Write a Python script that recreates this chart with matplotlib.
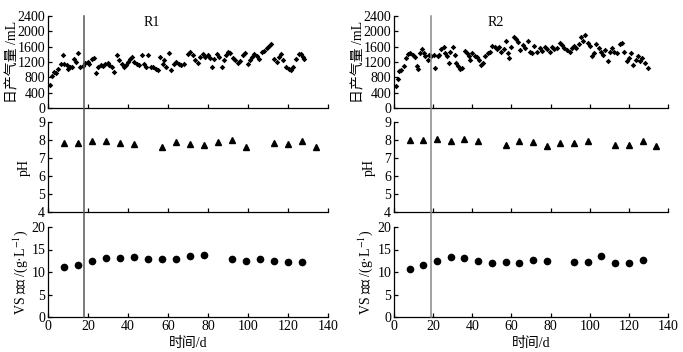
import numpy as np
import matplotlib
matplotlib.use("Agg")
import matplotlib.pyplot as plt
from matplotlib.lines import Line2D

plt.rcParams['font.family'] = ['Liberation Serif', 'Noto Sans CJK SC']
plt.rcParams['font.size'] = 10
plt.rcParams['mathtext.fontset'] = 'stix'
plt.rcParams['axes.unicode_minus'] = False

# daily gas production (mL)
gas_days_r1 = [1, 2, 3, 4, 5, 6.5, 7.3, 8.2, 9.3, 10, 11, 12, 13.2, 14, 15.2, 16.2, 17.3,
               18.7, 19.8, 20.7, 21.8, 23.2, 24, 25.2, 26.5, 27.7, 28.7, 29.8, 30.7, 31.8,
               33.2, 34.5, 35.7, 37, 38.2, 39, 39.8, 41, 42, 43.2, 44.3, 45.7, 47, 48.2,
               49, 49.8, 51.5, 52.7, 54, 55.2, 56, 57.3, 58.2, 59, 60.7, 61.5, 62.8, 64,
               65.3, 66.5, 68.2, 69.8, 71, 72.3, 73.7, 74.8, 76, 77.3, 78.7, 79.8, 81, 82,
               83.2, 84.3, 85.7, 86.8, 87.8, 89, 90.2, 91.2, 92.3, 93.5, 94.8, 96, 97.3,
               98.7, 99.8, 101, 102, 103.2, 104.3, 105.7, 107, 108.2, 109.3, 110.3, 111.5,
               113.2, 114.3, 115.3, 116.5, 117.7, 119, 120.3, 121.5, 122.3, 124, 125.3,
               126.5, 127.3, 128.2]
gas_r1 = [600, 825, 950, 910, 1030, 1160, 1370, 1160, 1120, 1010, 1060, 1075, 1280, 1200,
          1425, 1075, 1090, 1175, 1200, 1160, 1280, 1310, 910, 1075, 1115, 1090, 1160, 1175,
          1115, 1075, 950, 1370, 1245, 1160, 1075, 1115, 1200, 1280, 1325, 1200, 1160, 1115,
          1390, 1160, 1060, 1390, 1060, 1075, 1030, 990, 1325, 1160, 1245, 1075, 1425, 990,
          1160, 1200, 1160, 1115, 1160, 1410, 1450, 1370, 1260, 1185, 1325, 1410, 1325, 1390,
          1310, 1075, 1280, 1410, 1325, 1075, 1260, 1370, 1450, 1425, 1310, 1260, 1175, 1225,
          1370, 1425, 1160, 1245, 1325, 1410, 1345, 1285, 1450, 1490, 1560, 1615, 1660, 1285,
          1200, 1325, 1410, 1245, 1075, 1010, 990, 1075, 1285, 1410, 1410, 1325, 1285]

gas_days_r2 = [1, 2.1, 2.4, 3.7, 5, 6.1, 7.2, 8.3, 9.5, 10.6, 11.8, 12.3, 13.5, 14.3, 15.2,
               16, 17.2, 18, 19.1, 20.3, 21.1, 22.3, 23.2, 24.2, 25.4, 26.2, 27.1, 28, 28.8,
               30, 31, 31.7, 32.7, 33.9, 34.7, 36.1, 37.3, 38.2, 39, 39.9, 41.2, 42.4, 43.5,
               44.6, 45.3, 46.6, 48, 49.2, 50.1, 51.4, 52.6, 53.5, 54.8, 56, 57.2, 58.3, 59,
               60, 61.2, 62.4, 63.4, 64.6, 65.7, 67.1, 68.5, 69.7, 70.6, 71.7, 73.1, 74.5,
               75.7, 76.9, 78.2, 79.6, 80.8, 82, 83.3, 84.7, 85.9, 87.1, 88.4, 89.8, 91,
               92.2, 93.2, 94.4, 95.3, 96.6, 97.8, 99, 100.1, 101.2, 102.1, 103.4, 104.6,
               105.8, 106.8, 108, 109.2, 110.2, 111.4, 112.6, 114, 115.4, 116.6, 117.4,
               118.8, 120, 121.2, 122.2, 123.4, 124.6, 125.9, 126.8, 128, 129.7]
gas_r2 = [580, 767, 963, 990, 1090, 1300, 1410, 1445, 1390, 1330, 1090, 1005, 1430, 1530,
          1430, 1345, 1260, 1390, 1365, 1390, 1050, 1345, 1390, 1530, 1600, 1430, 1365, 1175,
          1470, 1580, 1390, 1175, 1090, 1005, 1050, 1500, 1430, 1345, 1260, 1430, 1365, 1330,
          1260, 1130, 1175, 1345, 1430, 1470, 1620, 1600, 1530, 1580, 1470, 1530, 1750, 1430,
          1300, 1600, 1855, 1810, 1730, 1515, 1645, 1560, 1750, 1470, 1430, 1620, 1470, 1560,
          1500, 1580, 1530, 1470, 1600, 1530, 1560, 1685, 1645, 1560, 1515, 1450, 1560, 1620,
          1560, 1670, 1840, 1750, 1900, 1685, 1620, 1345, 1430, 1670, 1560, 1450, 1390, 1515,
          1220, 1470, 1560, 1470, 1430, 1670, 1700, 1470, 1230, 1300, 1430, 1130, 1260, 1345,
          1220, 1300, 1175, 1050]

# weekly pH
ph_days = [8, 15, 22, 29, 36, 43, 57, 64, 71, 78, 85, 92, 99, 113, 120, 127, 134]
ph_r1 = [7.81, 7.81, 7.96, 7.93, 7.81, 7.76, 7.63, 7.87, 7.80, 7.70, 7.87, 8.00, 7.59,
         7.81, 7.76, 7.96, 7.63]
ph_r2 = [8.02, 7.98, 8.06, 7.92, 8.06, 7.92, 7.75, 7.96, 7.87, 7.64, 7.83, 7.83, 7.96,
         7.74, 7.72, 7.92, 7.66]

# weekly VS concentration (g/L)
vs_days = [8, 15, 22, 29, 36, 43, 50, 57, 64, 71, 78, 92, 99, 106, 113, 120, 127]
vs_r1 = [11.05, 11.6, 12.5, 13.1, 13.2, 13.4, 12.9, 13.0, 12.9, 13.45, 13.75, 13.0, 12.4,
         12.9, 12.4, 12.15, 12.15]
vs_r2 = [10.7, 11.6, 12.4, 13.3, 13.1, 12.4, 12.0, 12.15, 12.0, 12.7, 12.5, 12.2, 12.2,
         13.6, 12.0, 12.0, 12.7]

start_day = [18, 19]
titles = ['R1', 'R2']
xticks = [0, 20, 40, 60, 80, 100, 120, 140]

W, H = 683, 352
fig = plt.figure(figsize=(W / 100, H / 100), dpi=100)


def frac(x0, y_top, x1, y_bot):
    return [x0 / W, 1 - y_bot / H, (x1 - x0) / W, (y_bot - y_top) / H]


def style(ax):
    for s in ['top', 'right']:
        ax.spines[s].set_visible(False)
    for s in ['left', 'bottom']:
        ax.spines[s].set_linewidth(0.9)
    ax.tick_params(direction='in', length=3, width=0.9, labelsize=10, pad=2)
    ax.set_xlim(0, 140)
    ax.set_xticks(xticks)


cols = [(48, 328), (394, 668)]
gas_all = [(gas_days_r1, gas_r1), (gas_days_r2, gas_r2)]
ph_all = [ph_r1, ph_r2]
vs_all = [vs_r1, vs_r2]
# label anchor (pixels) for each column: gas, pH, VS
label_px = [(19, 31, 30), (365, 376, 375)]

for i, (x0, x1) in enumerate(cols):
    ax1 = fig.add_axes(frac(x0, 16, x1, 108))
    ax2 = fig.add_axes(frac(x0, 122, x1, 212))
    ax3 = fig.add_axes(frac(x0, 227, x1, 317))

    ax1.scatter(gas_all[i][0], gas_all[i][1], marker='D', s=8, color='black', linewidths=0)
    ax1.set_ylim(0, 2400)
    ax1.set_yticks(range(0, 2401, 400))
    ax1.set_ylabel('日产气量 /mL')
    ax1.text(0.37, 0.93, titles[i], transform=ax1.transAxes, ha='center', va='center',
             fontsize=10)

    ax2.plot(ph_days, ph_all[i], '^', color='black', markersize=4.5)
    ax2.set_ylim(4, 9)
    ax2.set_yticks(range(4, 10))
    ax2.set_ylabel('pH')

    ax3.plot(vs_days, vs_all[i], 'o', color='black', markersize=4.5)
    ax3.set_ylim(0, 20)
    ax3.set_yticks([0, 5, 10, 15, 20])
    ax3.set_ylabel('VS 浓度 /(g·L$^{-1}$)')
    ax3.set_xlabel('时间/d', labelpad=3)

    for ax, lx in zip((ax1, ax2, ax3), label_px[i]):
        style(ax)
        ax.yaxis.set_label_coords((lx - x0) / (x1 - x0), 0.5)
    ax1.set_xticklabels([])
    ax2.set_xticklabels([])

    # vertical marker crossing all three panels
    xpix = x0 + start_day[i] * (x1 - x0) / 140
    fig.add_artist(Line2D([xpix / W, xpix / W], [1 - 16 / H, 1 - 317 / H],
                          color='#555555' if i == 0 else '#888888', linewidth=1.1))

fig.savefig('out.png', dpi=100)
